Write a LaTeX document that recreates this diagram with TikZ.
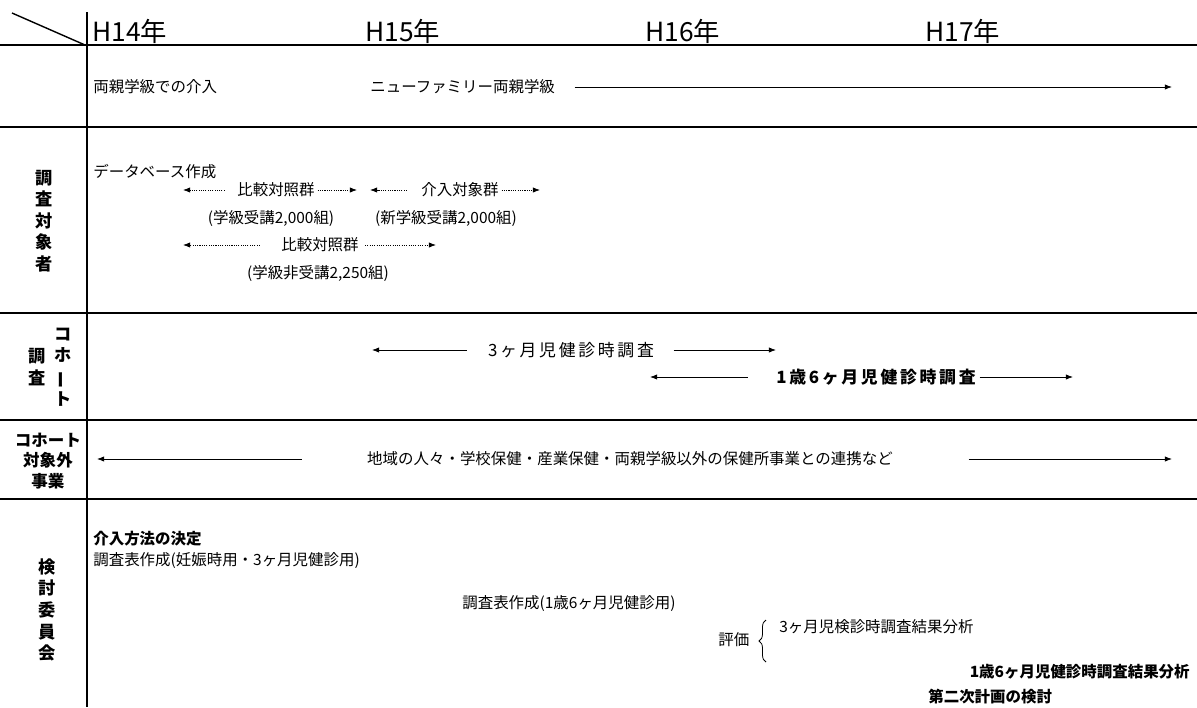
\documentclass[tikz,border=0pt]{standalone}
\usepackage{fontspec}
\setmainfont{Noto Sans CJK JP}
\newfontfamily\widejp{Noto Sans CJK JP}[LetterSpace=16]
\usetikzlibrary{arrows.meta, decorations.pathreplacing}

\tikzset{
  rule/.style={line width=0.8pt},
  txt/.style={anchor=west, inner sep=0pt, font=\fontsize{8.8}{10}\selectfont},
  txtb/.style={txt, font=\fontsize{8.8}{10}\selectfont\bfseries},
  mid/.style={txt, anchor=center},
  wide/.style={txt, anchor=center, font=\fontsize{9.6}{11}\selectfont\widejp},
  year/.style={anchor=base west, inner sep=0pt, font=\fontsize{15}{17}\selectfont},
  side/.style={inner sep=0pt, align=center, font=\fontsize{9.8}{12.3}\selectfont\bfseries},
  span/.style={-{Latex[length=4pt,width=3pt]}, line width=0.45pt},
  dspan/.style={span, dash pattern=on 0.6pt off 0.7pt},
}
\newcommand{\vbar}{\rotatebox[origin=c]{90}{ー}}

\begin{document}
\begin{tikzpicture}[x=0.02cm, y=-0.02cm]
  \useasboundingbox (0,0) rectangle (1197,707);
  % table lines
  \draw[rule] (12,13) -- (85,45);
  \draw[rule] (87,12) -- (87,707);
  \foreach \y in {45,127,313,420,499}
    \draw[rule] (0,\y) -- (1197,\y);
  %
  \node[year] (h14) at (92,41) {H14年};
  \node[year] (h15) at (365,41) {H15年};
  \node[year] (h16) at (645,41) {H16年};
  \node[year] (h17) at (925,41) {H17年};
  %
  \node[txt] (ryosin) at (93,87) {両親学級での介入};
  \node[txt] (newfam) at (370,87) {ニューファミリー両親学級};
  \coordinate (newfamEnd) at (1172,87);
  \draw[span] ([xshift=11pt]newfam.east) -- (newfamEnd);
  %
  \node[side] (lblTaisho) at (44,221) {調\\査\\対\\象\\者};
  \node[txt] (dbase) at (93,172) {データベース作成};
  \node[mid] (hikakuA) at (276,190) {比較対照群};
  \coordinate (hikakuAL) at (183,190);
  \coordinate (hikakuAR) at (357,190);
  \draw[dspan] ([xshift=-7pt]hikakuA.west) -- (hikakuAL);
  \draw[dspan] ([xshift=1.5pt]hikakuA.east) -- (hikakuAR);
  \node[mid] (kainyu) at (460,190) {介入対象群};
  \coordinate (kainyuL) at (370,190);
  \coordinate (kainyuR) at (540,190);
  \draw[dspan] ([xshift=-8pt]kainyu.west) -- (kainyuL);
  \draw[dspan] ([xshift=1.5pt]kainyu.east) -- (kainyuR);
  \node[mid] (jukoA) at (271,218) {(学級受講2,000組)};
  \node[mid] (jukoB) at (446,218) {(新学級受講2,000組)};
  \node[mid] (hikakuB) at (320,245) {比較対照群};
  \coordinate (hikakuBL) at (183,245);
  \coordinate (hikakuBR) at (436,245);
  \draw[dspan] ([xshift=-12pt]hikakuB.west) -- (hikakuBL);
  \draw[dspan] ([xshift=3.5pt]hikakuB.east) -- (hikakuBR);
  \node[mid] (hijuko) at (318,273) {(学級非受講2,250組)};
  %
  \node[side] (lblChosa) at (37,367) {調\\査};
  \node[side] (lblCohort) at (63,367) {コ\\ホ\\\vbar\\ト};
  \node[wide] (san) at (571,350) {3ヶ月児健診時調査};
  \coordinate (sanL) at (372,350);
  \coordinate (sanR) at (776,350);
  \draw[span] ([xshift=-12pt]san.west) -- (sanL);
  \draw[span] ([xshift=11pt]san.east) -- (sanR);
  \node[wide, font=\fontsize{9.6}{11}\selectfont\widejp\bfseries] (issai) at (876,377) {1歳6ヶ月児健診時調査};
  \coordinate (issaiL) at (650,377);
  \coordinate (issaiR) at (1073,377);
  \draw[span] ([xshift=-16pt]issai.west) -- (issaiL);
  \draw[span] ([xshift=2pt]issai.east) -- (issaiR);
  %
  \node[side, font=\fontsize{9.4}{11.5}\selectfont\bfseries] (lblGai) at (48,461) {コホート\\対象外\\事業};
  \node[mid] (renkei) at (630,459) {地域の人々・学校保健・産業保健・両親学級以外の保健所事業との連携など};
  \coordinate (renkeiL) at (97,459);
  \coordinate (renkeiR) at (1172,459);
  \draw[span] ([xshift=-37pt]renkei.west) -- (renkeiL);
  \draw[span] ([xshift=43pt]renkei.east) -- (renkeiR);
  %
  \node[side] (lblIinkai) at (47,610) {検\\討\\委\\員\\会};
  \node[txtb] (hoho) at (93,539) {介入方法の決定};
  \node[txt] (hyoA) at (93,561) {調査表作成(妊娠時用・3ヶ月児健診用)};
  \node[txt] (hyoB) at (462,604) {調査表作成(1歳6ヶ月児健診用)};
  \node[txt] (hyoka) at (718,640) {評価};
  \coordinate (braceTop) at (766,620);
  \coordinate (braceBot) at (766,662);
  \draw[line width=0.45pt, decorate, decoration={brace, amplitude=4pt}] (braceBot) -- (braceTop);
  \node[txt] (bunsekiA) at (779,627) {3ヶ月児検診時調査結果分析};
  \node[txtb, anchor=east] (bunsekiB) at (1190,672) {1歳6ヶ月児健診時調査結果分析};
  \node[txtb] (dainiji) at (928,697) {第二次計画の検討};
\end{tikzpicture}
\end{document}
